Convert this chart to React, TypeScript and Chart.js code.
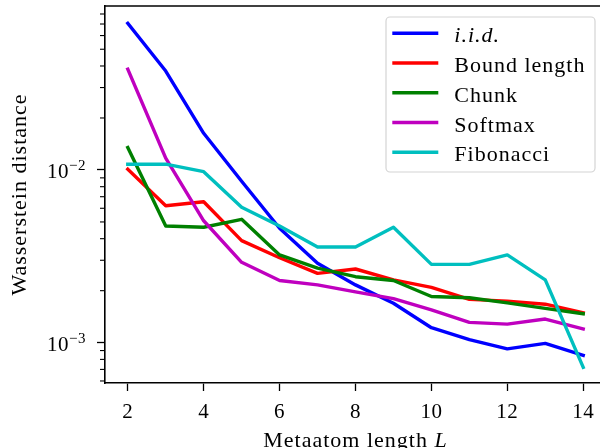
import { useEffect, useRef } from "react";
import { Chart, registerables } from "chart.js";

Chart.register(...registerables);

const lengths = [2, 3, 4, 5, 6, 7, 8, 9, 10, 11, 12, 13, 14];
const iid = [0.0706, 0.0374, 0.0163, 0.0086, 0.0046, 0.00288, 0.00216, 0.00169, 0.00122, 0.00104, 0.00092, 0.00099, 0.000845];
const boundLength = [0.0101, 0.0062, 0.00655, 0.0039, 0.0031, 0.00252, 0.00267, 0.00231, 0.00209, 0.00178, 0.00174, 0.00167, 0.00149];
const chunk = [0.0135, 0.00474, 0.00466, 0.00518, 0.00322, 0.0027, 0.00241, 0.00229, 0.00185, 0.00182, 0.0017, 0.00158, 0.00147];
const softmax = [0.0383, 0.0117, 0.00508, 0.00292, 0.00229, 0.00216, 0.00197, 0.0018, 0.00155, 0.00131, 0.00128, 0.00137, 0.0012];
const fibonacci = [0.0108, 0.0108, 0.00977, 0.00608, 0.00474, 0.00358, 0.00358, 0.00466, 0.00284, 0.00284, 0.00322, 0.00231, 0.00072];

const seriesNames = ["i.i.d.", "Bound length", "Chunk", "Softmax", "Fibonacci"];
const seriesItalic = [true, false, false, false, false];
const seriesValues = [iid, boundLength, chunk, softmax, fibonacci];
const seriesColors = ["#0000ff", "#ff0000", "#008000", "#bf00bf", "#00bfbf"];

const xTicks = [2, 4, 6, 8, 10, 12, 14];
const yMajorTicks = [1e-3, 1e-2];
const yMajorExponents = [-3, -2];
const yMinorTicks = [
  6e-4, 7e-4, 8e-4, 9e-4,
  2e-3, 3e-3, 4e-3, 5e-3, 6e-3, 7e-3, 8e-3, 9e-3,
  2e-2, 3e-2, 4e-2, 5e-2, 6e-2, 7e-2, 8e-2,
];
const xTitleMain = "Metaatom length ";
const xTitleVar = "L";
const yTitle = "Wasserstein distance";

const SERIF = '"Liberation Serif", "DejaVu Serif", serif';

function setSpacing(ctx: any, px: number) {
  try {
    ctx.letterSpacing = `${px}px`;
  } catch (e) {
    /* ignore */
  }
}

const textPlugin = {
  id: "frameAndText",
  afterDraw(chart: any) {
    const ctx: CanvasRenderingContext2D = chart.ctx;
    const { left, right, top, bottom } = chart.chartArea;
    const xs = chart.scales.x;
    const ys = chart.scales.y;
    ctx.save();
    ctx.strokeStyle = "#000";
    ctx.fillStyle = "#000";
    // top spine
    ctx.lineWidth = 1.6;
    ctx.beginPath();
    ctx.moveTo(left - 0.8, top);
    ctx.lineTo(right + 1, top);
    ctx.stroke();
    // minor y ticks
    ctx.lineWidth = 1.1;
    for (const v of yMinorTicks) {
      const y = ys.getPixelForValue(v);
      ctx.beginPath();
      ctx.moveTo(left - 5, y);
      ctx.lineTo(left, y);
      ctx.stroke();
    }
    // x tick labels
    setSpacing(ctx, 0.5);
    ctx.font = `21px ${SERIF}`;
    ctx.textAlign = "center";
    ctx.textBaseline = "alphabetic";
    for (const v of xTicks) {
      ctx.fillText(String(v), xs.getPixelForValue(v), bottom + 34.5);
    }
    // y tick labels with superscripts
    yMajorTicks.forEach((v, i) => {
      const y = ys.getPixelForValue(v);
      const sup = "\u2212" + Math.abs(yMajorExponents[i]);
      ctx.font = `15px ${SERIF}`;
      const wSup = ctx.measureText(sup).width;
      ctx.font = `21px ${SERIF}`;
      const wBase = ctx.measureText("10").width;
      const rightEdge = left - 19;
      ctx.textAlign = "left";
      ctx.fillText("10", rightEdge - wSup - wBase, y + 8);
      ctx.font = `15px ${SERIF}`;
      ctx.fillText(sup, rightEdge - wSup, y + 0.5);
    });
    // x title
    setSpacing(ctx, 1);
    ctx.font = `22px ${SERIF}`;
    const wMain = ctx.measureText(xTitleMain).width;
    ctx.font = `italic 22px ${SERIF}`;
    const wVar = ctx.measureText(xTitleVar).width;
    const cx = (left + 606) / 2;
    const startX = cx - (wMain + wVar) / 2;
    ctx.textAlign = "left";
    ctx.font = `22px ${SERIF}`;
    ctx.fillText(xTitleMain, startX, bottom + 63.5);
    ctx.font = `italic 22px ${SERIF}`;
    ctx.fillText(xTitleVar, startX + wMain, bottom + 63.5);
    // y title
    ctx.save();
    ctx.translate(25.5, (top + bottom) / 2);
    ctx.rotate(-Math.PI / 2);
    ctx.font = `22px ${SERIF}`;
    ctx.textAlign = "center";
    ctx.fillText(yTitle, 0, 0);
    ctx.restore();
    // legend
    const boxW = 209;
    const boxH = 155;
    const boxX = right - 11 - boxW;
    const boxY = top + 11;
    ctx.beginPath();
    ctx.roundRect(boxX, boxY, boxW, boxH, 4);
    ctx.fillStyle = "rgba(255,255,255,0.8)";
    ctx.fill();
    ctx.strokeStyle = "#d4d4d4";
    ctx.lineWidth = 1.2;
    ctx.stroke();
    seriesNames.forEach((name, i) => {
      const ly = boxY + 16.3 + i * 29.75;
      ctx.strokeStyle = seriesColors[i];
      ctx.lineWidth = 3.4;
      ctx.beginPath();
      ctx.moveTo(boxX + 6.3, ly);
      ctx.lineTo(boxX + 52.3, ly);
      ctx.stroke();
      ctx.fillStyle = "#000";
      ctx.font = `${seriesItalic[i] ? "italic " : ""}22px ${SERIF}`;
      ctx.textAlign = "left";
      ctx.fillText(name, boxX + 68.3, ly + 9);
    });
    setSpacing(ctx, 0);
    ctx.restore();
  },
};

export default function App() {
  const ref = useRef<HTMLCanvasElement | null>(null);
  useEffect(() => {
    if (!ref.current) return;
    const chart = new Chart(ref.current, {
      type: "line",
      data: {
        datasets: seriesNames.map((name, i) => ({
          label: name,
          data: lengths.map((x, j) => ({ x, y: seriesValues[i][j] })),
          borderColor: seriesColors[i],
          backgroundColor: seriesColors[i],
          borderWidth: 3.4,
          pointRadius: 0,
          borderJoinStyle: "round" as const,
          borderCapStyle: "square" as const,
          tension: 0,
          order: seriesNames.length - i,
        })),
      },
      options: {
        animation: false,
        responsive: false,
        devicePixelRatio: 1,
        layout: { padding: { left: 97, right: 14, top: 6, bottom: 57 } },
        plugins: { legend: { display: false }, tooltip: { enabled: false } },
        events: [],
        scales: {
          x: {
            type: "linear",
            min: 1.4,
            max: 14.6,
            bounds: "data",
            afterBuildTicks: (axis: any) => {
              axis.ticks = xTicks.map((v) => ({ value: v }));
            },
            ticks: { display: false },
            grid: { display: true, drawOnChartArea: false, drawTicks: true, tickLength: 8, tickColor: "#000", tickWidth: 1.3 },
            border: { display: true, color: "#000", width: 1.6 },
          },
          y: {
            type: "logarithmic",
            min: 5.84e-4,
            max: 0.089,
            bounds: "data",
            afterBuildTicks: (axis: any) => {
              axis.ticks = yMajorTicks.map((v) => ({ value: v, major: true }));
            },
            ticks: { display: false },
            grid: { display: true, drawOnChartArea: false, drawTicks: true, tickLength: 8, tickColor: "#000", tickWidth: 1.3 },
            border: { display: true, color: "#000", width: 1.6 },
          },
        },
      },
      plugins: [textPlugin],
    });
    return () => chart.destroy();
  }, []);
  return (
    <div style={{ position: "fixed", left: 0, top: 0, width: 600, height: 448, overflow: "hidden", background: "#fff" }}>
      <canvas ref={ref} width={620} height={448} style={{ display: "block", width: 620, height: 448 }} />
    </div>
  );
}
